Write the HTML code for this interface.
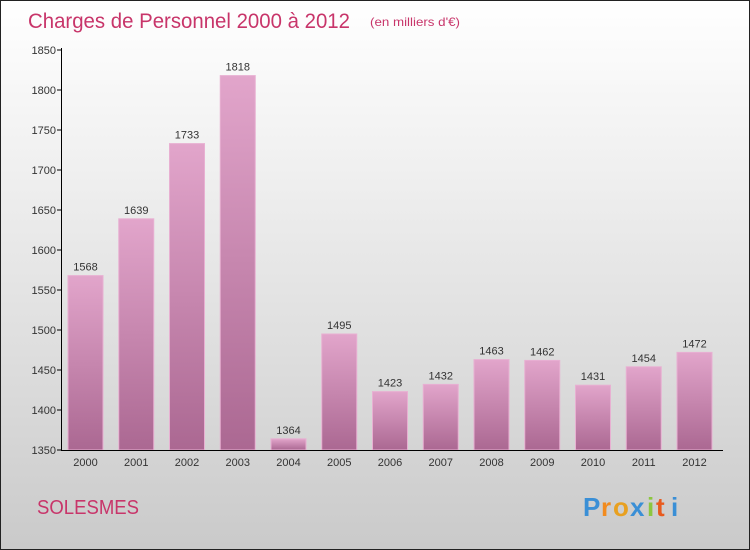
<!DOCTYPE html>
<html><head><meta charset="utf-8"><style>
body{margin:0;width:750px;height:550px;overflow:hidden;font-family:"Liberation Sans",sans-serif}
#wrap{position:absolute;left:0;top:0;width:748px;height:548px;border:1px solid #222;background:linear-gradient(#ffffff 0%,#f0f0f0 30%,#d8d8d8 75%,#cacaca 100%)}
</style></head><body>
<div id="wrap">
<svg id="chart" width="750" height="550" style="position:absolute;left:-1px;top:-1px">
<defs>
<linearGradient id="bg" x1="0" y1="0" x2="0" y2="1"><stop offset="0" stop-color="#e2a5cb"/><stop offset="1" stop-color="#ab6892"/></linearGradient>
</defs>
<text x="28" y="28" font-size="21" fill="#c8356a" textLength="322" lengthAdjust="spacingAndGlyphs">Charges de Personnel 2000 à 2012</text>
<text x="370" y="26" font-size="12" fill="#c8356a" textLength="90" lengthAdjust="spacingAndGlyphs">(en milliers d'€)</text>
<text x="37" y="514" font-size="20" fill="#c8356a" textLength="102" lengthAdjust="spacingAndGlyphs">SOLESMES</text>
<g font-size="26" font-weight="bold">
<text x="583" y="516" fill="#3a8fd6">P</text><text x="601" y="516" fill="#f28b1e">r</text><text x="613" y="516" fill="#e8a020">o</text><text x="630" y="516" fill="#3a8fd6">x</text><text x="647" y="516" fill="#8cc63f">i</text><text x="656" y="516" fill="#e85a1e">t</text><text x="671" y="516" fill="#3a8fd6">i</text>
</g>
<g id="plot"></g>
</svg>
</div>
<script>
const categories=["2000","2001","2002","2003","2004","2005","2006","2007","2008","2009","2010","2011","2012"];
const values=[1568,1639,1733,1818,1364,1495,1423,1432,1463,1462,1431,1454,1472];
const yTicks=[1350,1400,1450,1500,1550,1600,1650,1700,1750,1800,1850];
const NS="http://www.w3.org/2000/svg";
const g=document.getElementById('plot');
const y=v=>450-(v-1350)*0.8;
const x=i=>85.5+i*50.75;
function mk(t,a){const e=document.createElementNS(NS,t);for(const k in a)e.setAttribute(k,a[k]);g.appendChild(e);return e;}
categories.forEach((c,i)=>{
 const r=mk('rect',{x:x(i)-17.5,y:y(values[i]),width:35,height:450-y(values[i]),fill:'url(#bg)',stroke:'#e8b0d2','stroke-width':1});
 
 
 const t=mk('text',{x:x(i),y:y(values[i])-5,'font-size':11,fill:'#333','text-anchor':'middle'});t.textContent=values[i];
 
 
 const l=mk('text',{x:x(i),y:466,'font-size':11,fill:'#333','text-anchor':'middle'});l.textContent=c;
 
 
});
yTicks.forEach(v=>{
 mk('line',{x1:57,x2:62,y1:y(v),y2:y(v),stroke:'#000'});
 const t=mk('text',{x:56,y:y(v)+4,'font-size':11,fill:'#333','text-anchor':'end'});t.textContent=v;
 
 
});
const ya=mk('line',{x1:61.5,x2:61.5,y1:48,y2:450,stroke:'#000'});


const xa=mk('line',{x1:61,x2:723,y1:450.5,y2:450.5,stroke:'#000'});


</script>
</body></html>
